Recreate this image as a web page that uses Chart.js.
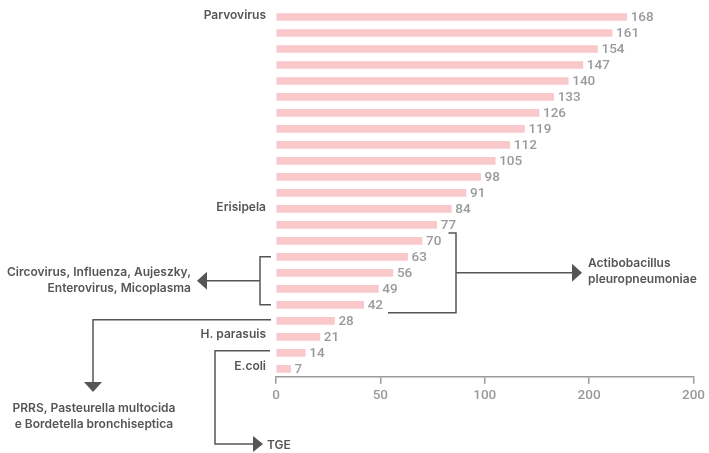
<!DOCTYPE html>
<html>
<head>
<meta charset="utf-8">
<script src="https://cdn.jsdelivr.net/npm/chart.js@4"></script>
<style>
  html,body{margin:0;padding:0;background:#fff;}
  #wrap{width:709px;height:453px;position:relative;}
</style>
</head>
<body>
<div id="wrap"><canvas id="c"></canvas></div>
<script>
const categories = ['Parvovirus','','','','','','','','','','','','Erisipela','','','','','','','','H. parasuis','','E.coli'];
const values = [168,161,154,147,140,133,126,119,112,105,98,91,84,77,70,63,56,49,42,28,21,14,7];
const xTickLabels = ['0','50','100','200','200'];
const noteActinobacillus = ['Actibobacillus','pleuropneumoniae'];
const noteCircovirus = ['Circovirus, Influenza, Aujeszky,','Enterovirus, Micoplasma'];
const notePRRS = ['PRRS, Pasteurella multocida','e Bordetella bronchiseptica'];
const noteTGE = ['TGE'];

const FONT = 'Roboto, "DejaVu Sans", sans-serif';
const TFONT = 'Inter, Roboto, sans-serif';
const TW = '600';
const LINE = '#555555';

function arrowHead(ctx, tipX, tipY, dir, len, half) {
  ctx.beginPath();
  if (dir === 'right') { ctx.moveTo(tipX, tipY); ctx.lineTo(tipX - len, tipY - half); ctx.lineTo(tipX - len, tipY + half); }
  if (dir === 'left')  { ctx.moveTo(tipX, tipY); ctx.lineTo(tipX + len, tipY - half); ctx.lineTo(tipX + len, tipY + half); }
  if (dir === 'down')  { ctx.moveTo(tipX, tipY); ctx.lineTo(tipX - half, tipY - len); ctx.lineTo(tipX + half, tipY - len); }
  ctx.closePath();
  ctx.fill();
}

const annotations = {
  id: 'annotations',
  afterDatasetsDraw(chart) {
    const ctx = chart.ctx;
    const xs = chart.scales.x, ys = chart.scales.y;
    const cy = i => ys.getPixelForValue(i);
    ctx.save();
    // value labels
    ctx.font = '500 13.5px ' + FONT;
    ctx.fillStyle = '#9a9a9a';
    ctx.textAlign = 'left';
    ctx.textBaseline = 'middle';
    const labelEnd = [];
    values.forEach((v, i) => {
      const x = xs.getPixelForValue(v) + 4;
      ctx.fillText(String(v), x, cy(i) + 1);
      labelEnd[i] = x + ctx.measureText(String(v)).width;
    });

    // category labels
    ctx.font = TW + ' 12px ' + TFONT;
    ctx.fillStyle = '#555555';
    ctx.textAlign = 'right';
    categories.forEach((c, i) => {
      if (c) ctx.fillText(c, chart.chartArea.left - 10, cy(i) - 2);
    });

    ctx.strokeStyle = LINE;
    ctx.fillStyle = LINE;
    ctx.lineWidth = 1.5;

    // right bracket (indices 14..18)
    const rTop = (cy(13) + cy(14)) / 2, rBot = (cy(18) + cy(19)) / 2, rX = 456;
    const rMid = (rTop + rBot) / 2;
    ctx.beginPath();
    ctx.moveTo(labelEnd[14] + 7, rTop); ctx.lineTo(rX, rTop); ctx.lineTo(rX, rBot); ctx.lineTo(labelEnd[18] + 5, rBot);
    ctx.moveTo(rX, rMid); ctx.lineTo(574, rMid);
    ctx.stroke();
    arrowHead(ctx, 582, rMid, 'right', 10, 9);

    // left bracket (indices 15..18)
    const lTop = cy(15), lBot = cy(18), lX = 260;
    const lMid = (lTop + lBot) / 2;
    ctx.beginPath();
    ctx.moveTo(271, lTop); ctx.lineTo(lX, lTop); ctx.lineTo(lX, lBot); ctx.lineTo(271, lBot);
    ctx.moveTo(lX, lMid); ctx.lineTo(205, lMid);
    ctx.stroke();
    arrowHead(ctx, 197, lMid, 'left', 10, 9);

    // PRRS arrow from bar 28
    const pY = cy(19) - 1;
    ctx.beginPath();
    ctx.moveTo(271, pY); ctx.lineTo(93, pY); ctx.lineTo(93, 384);
    ctx.stroke();
    arrowHead(ctx, 93, 392, 'down', 10, 9);

    // TGE arrow from bar 14
    const tY = cy(21) - 2;
    ctx.beginPath();
    ctx.moveTo(270, tY); ctx.lineTo(215, tY); ctx.lineTo(215, 444); ctx.lineTo(255, 444);
    ctx.stroke();
    arrowHead(ctx, 263, 444, 'right', 10, 8);

    // texts
    ctx.font = TW + ' 12px ' + TFONT;
    ctx.fillStyle = '#555555';
    ctx.textBaseline = 'middle';
    ctx.textAlign = 'left';
    ctx.fillText(noteActinobacillus[0], 588, rMid - 9);
    ctx.fillText(noteActinobacillus[1], 588, rMid + 7);
    ctx.textAlign = 'right';
    ctx.fillText(noteCircovirus[0], 191, lMid - 8);
    ctx.fillText(noteCircovirus[1], 191, lMid + 8);
    ctx.textAlign = 'center';
    ctx.fillText(notePRRS[0], 94, 408);
    ctx.fillText(notePRRS[1], 94, 424);
    ctx.textAlign = 'left';
    ctx.fillText(noteTGE[0], 267, 445);
    ctx.restore();
  }
};

new Chart(document.getElementById('c'), {
  type: 'bar',
  data: {
    labels: categories,
    datasets: [{
      data: values,
      backgroundColor: '#f8c8cb',
      barThickness: 7
    }]
  },
  options: {
    indexAxis: 'y',
    responsive: true,
    maintainAspectRatio: false,
    animation: false,
    layout: { padding: { top: 9, right: 14, bottom: 45, left: 276 } },
    plugins: { legend: { display: false }, tooltip: { enabled: false } },
    scales: {
      x: {
        min: 0, max: 200,
        ticks: {
          stepSize: 50,
          color: '#9a9a9a',
          font: { family: FONT, size: 13.5, weight: '500' },
          padding: 4,
          callback: (v, i) => xTickLabels[i]
        },
        grid: { display: true, drawOnChartArea: false, drawTicks: true, tickLength: 7, color: '#9a9a9a', lineWidth: 1.5 },
        border: { display: true, color: '#9a9a9a', width: 1.5 }
      },
      y: {
        display: false
      }
    }
  },
  plugins: [annotations]
});
</script>
</body>
</html>
